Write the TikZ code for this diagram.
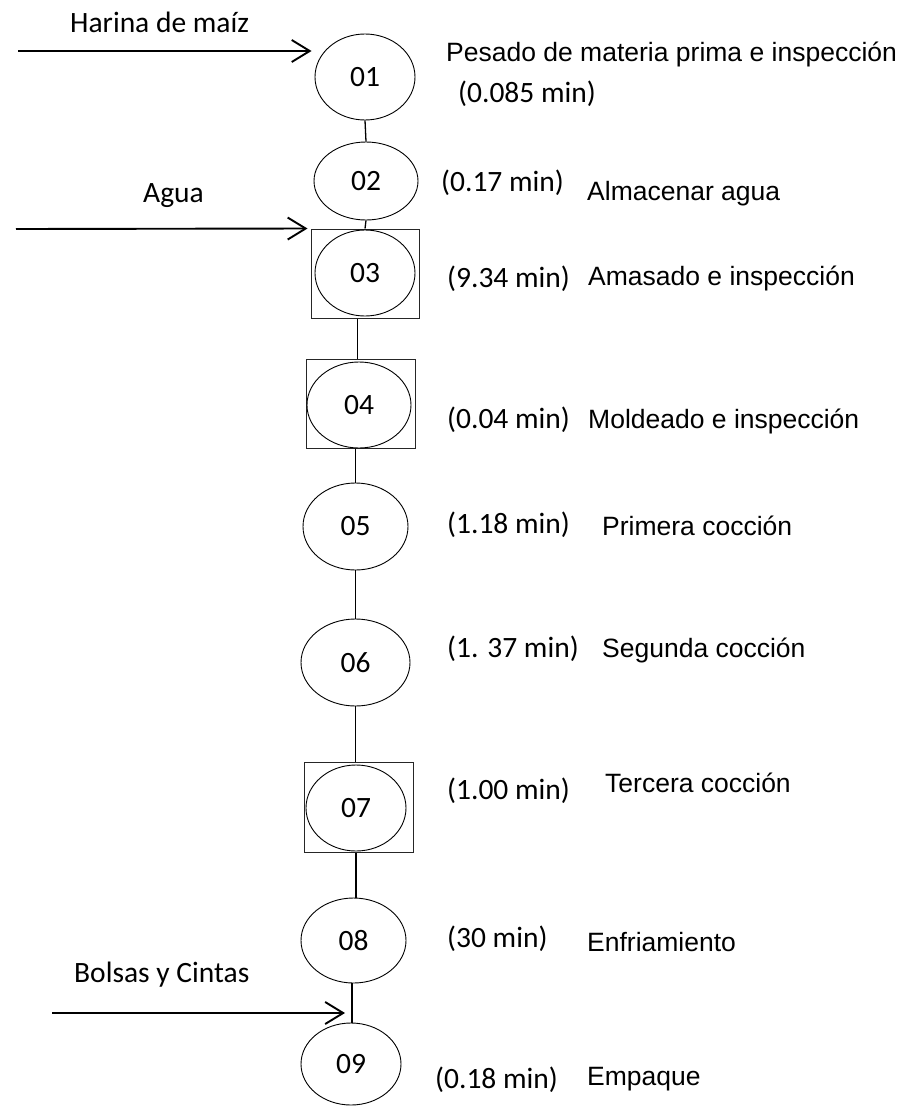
\documentclass[tikz,border=0pt]{standalone}
\usepackage{fontspec}
\setmainfont{Carlito}
\newfontfamily\arialfont{Liberation Sans}
\usetikzlibrary{shapes.geometric,arrows.meta}
\begin{document}
\begin{tikzpicture}[x=1pt,y=-1pt,
  op/.style={draw,ellipse,line width=0.9pt,inner sep=0pt,
    font=\fontsize{29.5}{32}\selectfont},
  frame/.style={draw=black!85,line width=1pt,inner sep=0pt},
  link/.style={line width=1.3pt},
  feed/.style={line width=1.9pt,
    -{Straight Barb[length=18pt,width=22pt,line width=1.9pt]}},
  lbl/.style={inner sep=0pt,anchor=base west,font=\fontsize{29.5}{32}\selectfont},
  desc/.style={inner sep=0pt,anchor=base west,
    font=\arialfont\fontsize{26.5}{29}\selectfont}]
\useasboundingbox (0,0) rectangle (905,1106);

% process steps
\node[op,minimum width=100pt,minimum height=86pt] (e1) at (365,77) {01};
\node[op,minimum width=104pt,minimum height=78pt] (e2) at (366,181) {02};
\node[frame,minimum width=108pt,minimum height=89pt] (b3) at (365,273.5) {};
\node[op,minimum width=100pt,minimum height=86pt] (e3) at (365,273) {03};
\node[frame,minimum width=109pt,minimum height=89pt] (b4) at (360.5,403.5) {};
\node[op,minimum width=104pt,minimum height=86pt] (e4) at (359,405) {04};
\node[op,minimum width=105pt,minimum height=87pt] (e5) at (355.5,526.5) {05};
\node[op,minimum width=109pt,minimum height=87pt] (e6) at (355.5,662.5) {06};
\node[frame,minimum width=109pt,minimum height=90pt] (b7) at (358.5,807) {};
\node[op,minimum width=100pt,minimum height=86pt] (e7) at (356,808) {07};
\node[op,minimum width=105pt,minimum height=85pt] (e8) at (353.5,940.5) {08};
\node[op,minimum width=100pt,minimum height=82pt] (e9) at (351,1064) {09};

% connectors between steps
\draw[link] (e1.south) -- (e2.north);
\draw[link] (e2.south) -- (b3.north);
\draw[link] ([xshift=-3pt]b4.north) -- ([xshift=-3pt]b4.north |- b3.south);
\draw[link] (b4.south -| e5.north) -- (e5.north);
\draw[link] (e5.south) -- (e6.north);
\draw[link] (e6.south) -- ([xshift=-3pt]b7.north);
\draw[link] ([xshift=-2.5pt]b7.south) -- ([xshift=-2.5pt]b7.south |- e8.north);
\draw[link] ([xshift=1pt]e9.north) -- ([xshift=1pt]e9.north |- e8.south);

% material inputs
\coordinate (inHarina) at (18,51);
\coordinate (inAgua) at (16,229);
\coordinate (inBolsas) at (52,1013);
\draw[feed,shorten >=3pt] (inHarina) -- (inHarina -| e1.west);
\draw[feed,shorten >=3pt] (inAgua) -- (b3.north west);
\draw[feed,shorten >=6pt] (inBolsas) -- (inBolsas -| e9.north);

\node[lbl] (tHarina) at (70,32) {Harina de maíz};
\node[lbl] (tAgua) at (143,202) {Agua};
\node[lbl] (tBolsas) at (74,982) {Bolsas y Cintas};

% times and descriptions
\node[desc] (d1) at (446,61) {Pesado de materia prima e inspección};
\node[lbl] (t1) at (458,102) {(0.085 min)};
\node[lbl] (t2) at (441,191) {(0.17 min)};
\node[desc] (d2) at (587,200) {Almacenar agua};
\node[lbl] (t3) at (447,287) {(9.34 min)};
\node[desc] (d3) at (588,285) {Amasado e inspección};
\node[lbl] (t4) at (447,428) {(0.04 min)};
\node[desc] (d4) at (588,428) {Moldeado e inspección};
\node[lbl] (t5) at (447,533) {(1.18 min)};
\node[desc] (d5) at (602,535) {Primera cocción};
\node[lbl] (t6) at (447,657) {(1. 37 min)};
\node[desc] (d6) at (602,657) {Segunda cocción};
\node[lbl] (t7) at (447,799) {(1.00 min)};
\node[desc] (d7) at (605,792) {Tercera cocción};
\node[lbl] (t8) at (447,947) {(30 min)};
\node[desc] (d8) at (587,951) {Enfriamiento};
\node[lbl] (t9) at (435,1088) {(0.18 min)};
\node[desc] (d9) at (587,1085) {Empaque};
\end{tikzpicture}
\end{document}
